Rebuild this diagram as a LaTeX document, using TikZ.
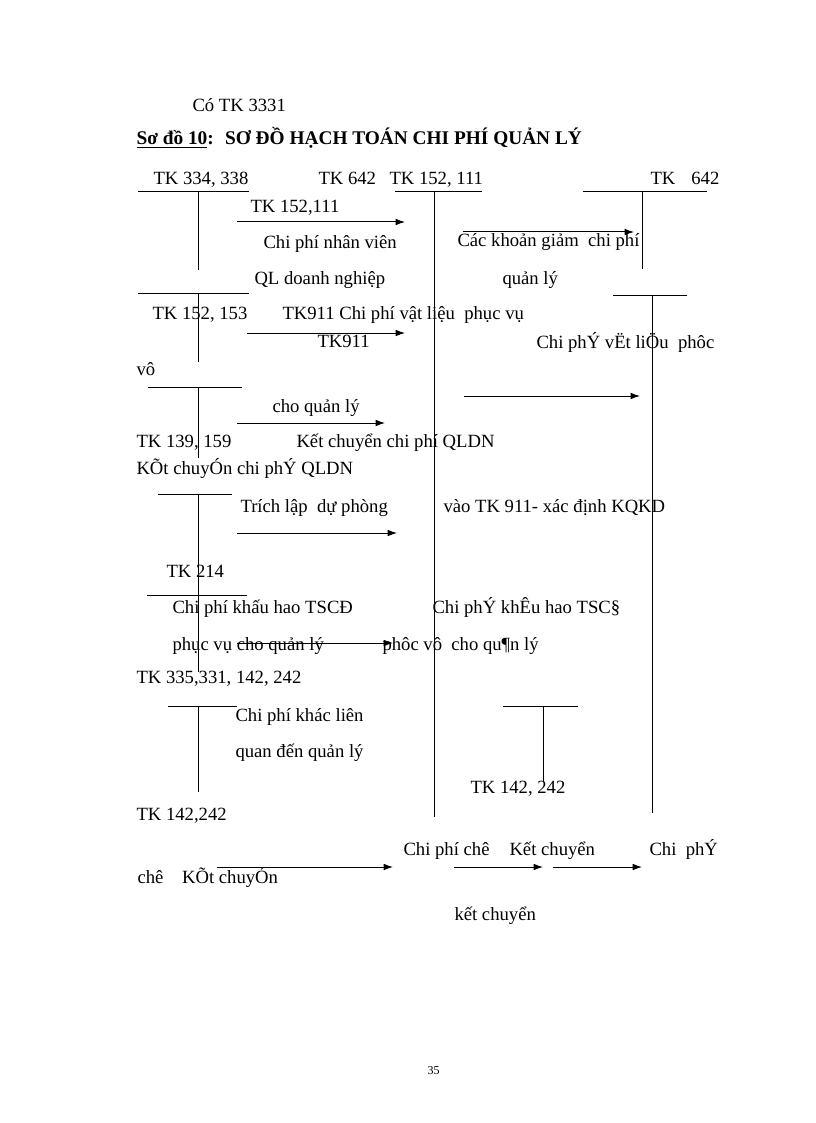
\documentclass[tikz,border=0pt]{standalone}
\usepackage{fontspec}
\setmainfont{Liberation Serif}
\usetikzlibrary{arrows.meta}

\begin{document}
\begin{tikzpicture}[x=0.75pt,y=-0.75pt,line width=0.75pt,
	txt/.style={anchor=base west,inner sep=0pt,font=\fontsize{14}{16}\selectfont},
	arr/.style={-{Latex[length=7pt,width=5pt]},line width=0.75pt}]
		\useasboundingbox (0,0) rectangle (816,1123);
		\foreach \xa / \xb / \y / \xv / \yv in {138/249/192/198/270,395/482/192/434/817,583/707/192/642/269,138/249/293/198/362,613/687/295/652/813,148/242/387/198/458,158/232/494/198/595,147/247/595/198/672,168/237/706/198/792,503/578/706/543/782} { \draw (\xa,\y) -- (\xb,\y); \draw (\xv,\y) -- (\xv,\yv);}
		\foreach \n / \xa / \xb / \y in {1/237/405/222,2/463/634/232,3/247/405/333,4/464/640/396,5/237/385/423,6/237/397/533,7/237/393/643,8/217/393/867,9/454/543/867,10/553/642/867} { \coordinate (s\n) at (\xa,\y); \coordinate (e\n) at (\xb,\y); \draw[arr] (s\n) -- (e\n);}
		\node[txt] (co) at (192,112) {Có TK 3331};
		\node[txt,font=\fontsize{14.5}{16}\selectfont\bfseries] (title) at (136,145) {\underline{Sơ đồ 10}:~ SƠ ĐỒ HẠCH TOÁN CHI PHÍ QUẢN LÝ};
		\node[txt] (tk334) at (153,185) {TK 334, 338};
		\node[txt] (tk642a) at (318,185) {TK 642};
		\node[txt] (tk152a) at (389,185) {TK 152, 111};
		\node[txt] (tk642b) at (650,185) {TK\hspace{12pt}642};
		\node[txt] (tk152b) at (250,213) {TK 152,111};
		\node[txt] (nv) at (263,248) {Chi phí nhân viên};
		\node[txt] (giam) at (457,247) {Các khoản giảm~ chi phí};
		\node[txt] (qldn) at (254,284) {QL doanh nghiệp};
		\node[txt] (ql) at (502,284) {quản lý};
		\node[txt] (tk153) at (152,319) {TK 152, 153};
		\node[txt] (vl) at (282,319) {TK911 Chi phí vật liệu~ phục vụ};
		\node[txt] (tk911) at (317,347) {TK911};
		\node[txt] (vlx) at (536,348) {Chi phÝ vËt liÖu~ phôc};
		\node[txt] (vo) at (136,375) {vô};
		\node[txt] (choql) at (272,412) {cho quản lý};
		\node[txt] (tk139) at (136,447) {TK 139, 159};
		\node[txt] (kc) at (296,447) {Kết chuyển chi phí QLDN};
		\node[txt] (kcx) at (136,474) {KÕt chuyÓn chi phÝ QLDN};
		\node[txt] (dp) at (240,512) {Trích lập~ dự phòng};
		\node[txt] (kqkd) at (443,512) {vào TK 911- xác định KQKD};
		\node[txt] (tk214) at (166,577) {TK 214};
		\node[txt] (kh) at (172,613) {Chi phí khấu hao TSCĐ};
		\node[txt] (khx) at (432,613) {Chi phÝ khÊu hao TSC§};
		\node[txt] (pv) at (172,650) {phục vụ cho quản lý};
		\node[txt] (pvx) at (382,650) {phôc vô~ cho qu¶n lý};
		\node[txt] (tk335) at (136,683) {TK 335,331, 142, 242};
		\node[txt] (khac) at (235,721) {Chi phí khác liên};
		\node[txt] (qd) at (235,757) {quan đến quản lý};
		\node[txt] (tk142a) at (470,793) {TK 142, 242};
		\node[txt] (tk142b) at (136,820) {TK 142,242};
		\node[txt] (che) at (403,855) {Chi phí chê};
		\node[txt] (kc2) at (509,855) {Kết chuyển};
		\node[txt] (cp) at (649,855) {Chi~ phÝ};
		\node[txt] (chex) at (137,883) {chê\hspace{14pt}KÕt chuyÓn};
		\node[txt] (kc3) at (454,920) {kết chuyển};
		\node[txt,font=\fontsize{9}{10}\selectfont] (page) at (427,1074) {35};
	\end{tikzpicture}
\end{document}
